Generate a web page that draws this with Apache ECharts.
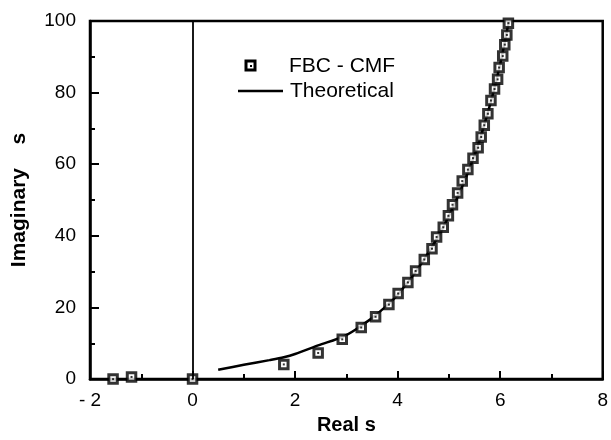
<!DOCTYPE html>
<html>
<head>
<meta charset="utf-8">
<script src="https://cdn.jsdelivr.net/npm/echarts@6/dist/echarts.min.js"></script>
<style>html,body{margin:0;padding:0;background:#fff}#c{width:611px;height:440px}</style>
</head>
<body>
<div id="c"></div>
<script>
// FBC - CMF computed eigenvalues: [Real s, Imaginary s]
const fbcReal = [-1.55,-1.19,0,1.78,2.45,2.92,3.29,3.57,3.83,4.01,4.20,4.35,4.52,4.67,4.76,4.89,4.99,5.07,5.17,5.26,5.37,5.47,5.57,5.63,5.69,5.76,5.82,5.89,5.95,5.98,6.05,6.09,6.13,6.16];
const fbcImag = [0,0.6,0,4.1,7.3,11.1,14.4,17.4,20.8,23.9,27.0,30.2,33.4,36.4,39.7,42.4,45.6,48.7,52.0,55.3,58.5,61.7,64.6,67.6,70.9,74.1,77.8,81.0,83.7,87.0,90.2,93.4,96.1,99.4];
// Theoretical curve
const theoReal = [0.5,1.0,1.5,1.78,2.0,2.45,2.97,3.3,3.6,4.0,4.5,5.0,5.5,5.8,6.0,6.17];
const theoImag = [2.6,4.0,5.3,6.1,7.0,9.4,12.1,15.0,18.2,23.5,33.0,45.5,62.5,76.5,88.0,100];
// Axis ticks
const xTicks = {min:-2, max:8, step:2};
const yTicks = {min:0, max:100, step:20};
const zeroLine = 0;

const fbcData = fbcReal.map((x,i)=>[x, fbcImag[i]]);
const theoData = theoReal.map((x,i)=>[x, theoImag[i]]);
const FONT = '"Liberation Sans", Arial, Helvetica, sans-serif';

const chart = echarts.init(document.getElementById('c'), null, {renderer:'canvas'});
chart.setOption({
  animation:false,
  backgroundColor:'#fff',
  grid:{left:90, right:3, top:21, bottom:56, show:true, borderColor:'#000', borderWidth:2.5, backgroundColor:'transparent'},
  xAxis:{
    type:'value', min:xTicks.min, max:xTicks.max, interval:xTicks.step,
    name:'Real s', nameLocation:'middle', nameGap:28,
    nameTextStyle:{fontFamily:FONT, fontSize:20, fontWeight:'bold', color:'#000'},
    axisLine:{show:true, onZero:false, lineStyle:{color:'#000', width:2.5}},
    axisTick:{show:true, inside:true, length:8, lineStyle:{color:'#000', width:2}},
    minorTick:{show:true, splitNumber:2, length:5, lineStyle:{color:'#000', width:2}},
    splitLine:{show:false},
    axisLabel:{fontFamily:FONT, fontSize:19, color:'#000', margin:12,
      formatter:v=> v<0 ? '- ' + Math.abs(v) : String(v)}
  },
  yAxis:{
    type:'value', min:yTicks.min, max:yTicks.max, interval:yTicks.step,
    name:'Imaginary    s', nameLocation:'middle', nameGap:60,
    nameTextStyle:{fontFamily:FONT, fontSize:21, fontWeight:'bold', color:'#000'},
    axisLine:{show:true, onZero:false, lineStyle:{color:'#000', width:2.5}},
    axisTick:{show:true, inside:true, length:9, lineStyle:{color:'#000', width:2}},
    minorTick:{show:true, splitNumber:2, length:5, lineStyle:{color:'#000', width:2}},
    splitLine:{show:false},
    axisLabel:{fontFamily:FONT, fontSize:19, color:'#000', margin:14}
  },
  series:[
    {
      name:'Theoretical', type:'line', data:theoData, smooth:0.3,
      showSymbol:false, symbol:'none',
      lineStyle:{color:'#000', width:2.5}, z:2,
      markLine:{silent:true, symbol:'none', label:{show:false},
        lineStyle:{color:'#000', width:1.8, type:'solid'},
        data:[{xAxis:zeroLine}]}
    },
    {
      name:'FBC - CMF', type:'scatter', data:fbcData, symbol:'rect', symbolSize:8.5,
      itemStyle:{color:'#fff', borderColor:'#000', borderWidth:3}, z:3
    },
    {
      name:'FBC - CMF dot', type:'scatter', data:fbcData, symbol:'rect', symbolSize:2,
      itemStyle:{color:'#000'}, z:4, silent:true
    }
  ],
  graphic:[
    {type:'rect', shape:{x:246, y:61, width:9, height:9}, style:{fill:'#fff', stroke:'#000', lineWidth:3}},
    {type:'rect', shape:{x:250, y:65, width:2, height:2}, style:{fill:'#000'}},
    {type:'text', x:289, y:66, style:{text:'FBC - CMF', fontFamily:FONT, fontSize:21, fill:'#000', verticalAlign:'middle'}},
    {type:'line', shape:{x1:238, y1:91, x2:283, y2:91}, style:{stroke:'#000', lineWidth:2.5}},
    {type:'text', x:290, y:91, style:{text:'Theoretical', fontFamily:FONT, fontSize:21, fill:'#000', verticalAlign:'middle'}}
  ]
});
</script>
</body>
</html>
